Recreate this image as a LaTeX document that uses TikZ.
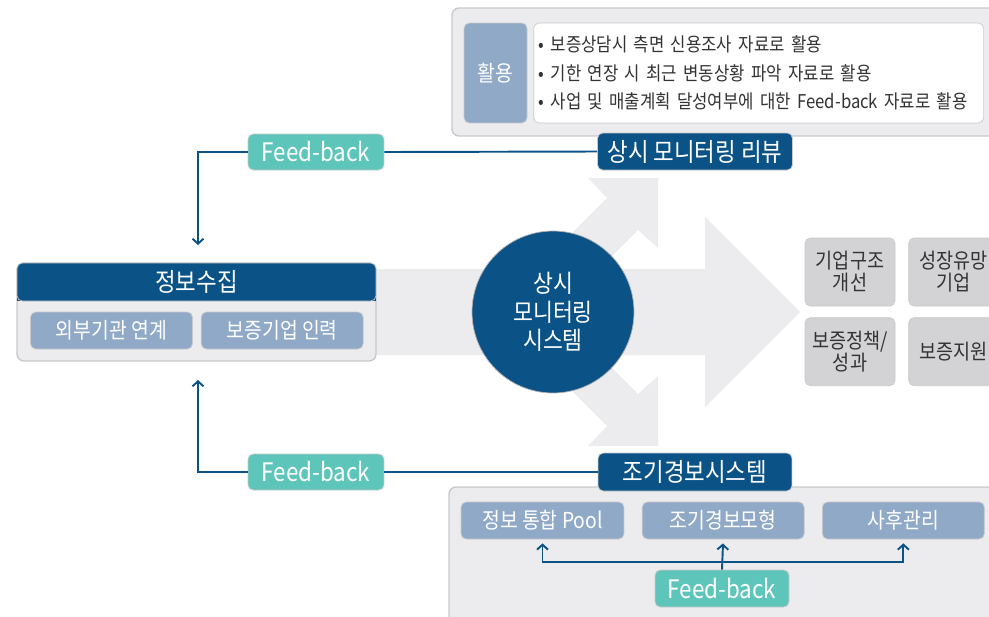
\documentclass[tikz,border=0pt]{standalone}
\usepackage{fontspec}
\setmainfont{Noto Sans CJK KR}[FakeStretch=0.88]
\usetikzlibrary{arrows.meta,positioning}
\definecolor{navy}{HTML}{0B5387}
\definecolor{fbteal}{HTML}{5EC5BA}
\definecolor{steel}{HTML}{8FA9C7}
\definecolor{paleg}{HTML}{ECECEE}
\definecolor{edgeg}{HTML}{C9C9CC}
\definecolor{boxg}{HTML}{D3D3D5}
\definecolor{inkg}{HTML}{333333}

\begin{document}
\begin{tikzpicture}[
      x=0.02cm, y=-0.02cm,
      panel/.style={fill=paleg, draw=edgeg, rounded corners=4pt, line width=0.8pt},
      flow/.style={fill=paleg},
      hdr/.style={fill=navy, draw=edgeg, rounded corners=3pt, text=white, minimum height=0.74cm, inner sep=0pt, font=\fontsize{14.5}{16}\selectfont},
      fb/.style={fill=fbteal, draw=edgeg, rounded corners=3pt, text=white, minimum width=2.72cm, minimum height=0.72cm, inner sep=0pt, font=\fontsize{14.5}{16}\selectfont},
      tag/.style={fill=steel, draw=edgeg, rounded corners=3pt, text=white, minimum width=3.24cm, minimum height=0.74cm, inner sep=0pt, font=\fontsize{12.5}{14}\selectfont},
      res/.style={fill=boxg, draw=edgeg, rounded corners=3pt, text=inkg, align=center, minimum width=1.8cm, minimum height=1.36cm, inner sep=0pt, font=\fontsize{12}{12.6}\selectfont},
      lst/.style={fill=white, draw=edgeg, rounded corners=3pt, text=inkg, align=left, text width=8.8cm, minimum height=2cm, inner xsep=0.1cm, font=\fontsize{10.8}{16.4}\selectfont},
      hub/.style={circle, fill=navy, draw=gray!60, text=white, align=center, minimum size=3.24cm, inner sep=0pt, font=\fontsize{14}{16.2}\selectfont},
      link/.style={draw=navy, line width=1.1pt},
      arr/.style={link, -{Straight Barb[length=1mm, width=2.2mm]}}
    ]
      \useasboundingbox (0,0) rectangle (989,616);
      % back panels
      \draw[panel] (452,8) rectangle (1010,136);
      \draw[panel] (449,487) rectangle (1010,640);
      % big grey arrows
      \fill[flow] (370,269) -- (705,269) -- (705,217) -- (800,312) -- (705,407) -- (705,355) -- (370,355) -- cycle;
      \fill[flow] (588,178) -- (658,178) -- (658,248) -- (638,230) -- (600,268) -- (560,245) -- (607,198) -- cycle;
      \fill[flow] (588,446) -- (658,446) -- (658,376) -- (638,394) -- (600,356) -- (560,379) -- (607,426) -- cycle;
      % info collection
      \draw[panel] (17,263) rectangle (376,361);
      \fill[navy] (17,285) rectangle (376,301);
      \node[hdr, minimum width=7.18cm, minimum height=0.76cm] (info) at (196.5,282) {정보수집};
      \node[tag] (ext) at (111.5,330.5) {외부기관 연계};
      \node[tag, right=0.16cm of ext] (guar) {보증기업 인력};
      % monitoring system
      \node[hub] (hub) at (553,312) {상시\\모니터링\\시스템};
      \node[res] (struct) at (850,272) {기업구조\\개선};
      \node[res, right=0.26cm of struct] (grow) {성장유망\\기업};
      \node[res, below=0.22cm of struct] (policy) {보증정책/\\성과};
      \node[res, below=0.22cm of grow] (support) {보증지원};
      % review
      \node[tag, minimum width=1.26cm, minimum height=2cm] (use) at (495.5,73) {활용};
      \node[lst, right=0.12cm of use] (list) {• 보증상담시 측면 신용조사 자료로 활용\\• 기한 연장 시 최근 변동상황 파악 자료로 활용\\• 사업 및 매출계획 달성여부에 대한 Feed-back 자료로 활용};
      \node[hdr, minimum width=3.9cm] (review) at (695,151.5) {상시 모니터링 리뷰};
      \node[fb] (fbTop) at (316,152) {Feed-back};
      \coordinate (inTop) at (198,245);
      \draw[link] (review.west) -- (fbTop.east);
      \draw[arr] (fbTop.west) -| (inTop);
      % early warning
      \node[hdr, minimum width=3.88cm, minimum height=0.76cm] (ews) at (695,472) {조기경보시스템};
      \node[fb] (fbLow) at (316,472) {Feed-back};
      \coordinate (inLow) at (198,380);
      \draw[link] (ews.west) -- (fbLow.east);
      \draw[arr] (fbLow.west) -| (inLow);
      \node[tag, minimum width=3.26cm] (pool) at (542.5,520.5) {정보 통합 Pool};
      \node[tag, right=0.35cm of pool] (model) {조기경보모형};
      \node[tag, right=0.35cm of model] (after) {사후관리};
      \node[fb, minimum width=2.68cm, minimum height=0.74cm] (fbEws) at (722,588.5) {Feed-back};
      \coordinate (fork) at (722,562);
      \draw[arr, shorten >=0.08cm] (fbEws.north) -- (model.south);
      \draw[arr, shorten >=0.08cm] (fork) -| (pool.south);
      \draw[arr, shorten >=0.08cm] (fork) -| (after.south);
    \end{tikzpicture}
\end{document}
